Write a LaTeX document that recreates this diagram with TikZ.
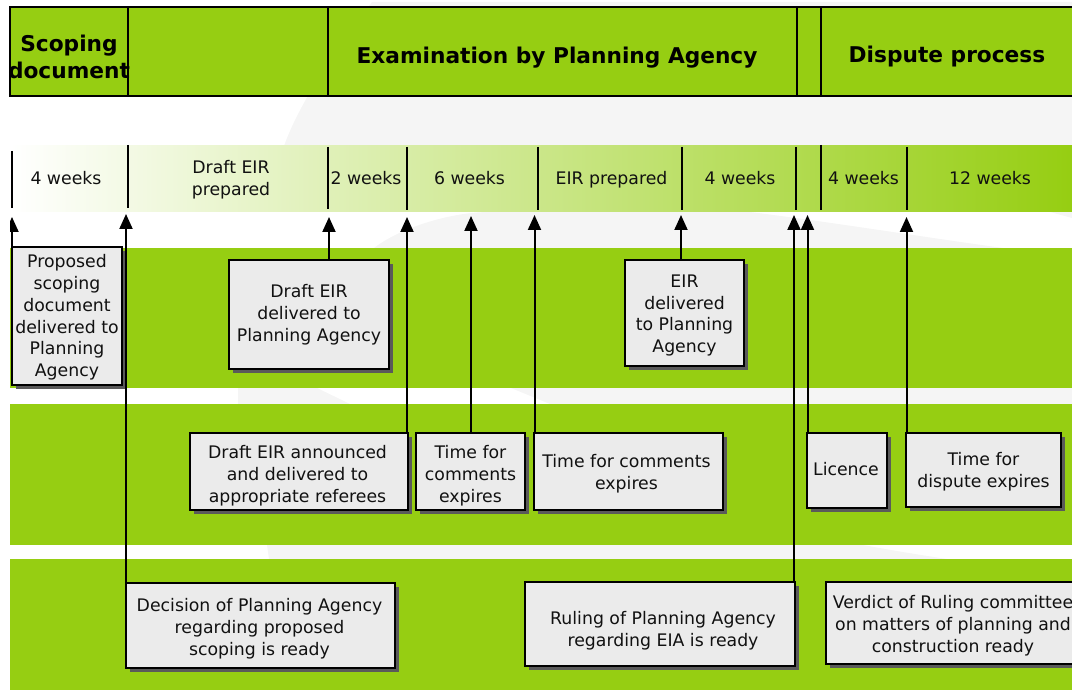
\documentclass[tikz,border=0pt]{standalone}
\usepackage{fontspec}
\setmainfont{DejaVu Sans}
\usetikzlibrary{arrows.meta,shadows}
\definecolor{grn}{HTML}{96CE12}
\definecolor{wm}{HTML}{F5F5F5}
\definecolor{boxfill}{HTML}{EBEBEB}
\definecolor{shade}{HTML}{5A5A5A}
\definecolor{ink}{HTML}{111111}
\tikzset{
  box/.style={draw=black,line width=2pt,fill=boxfill,text=ink,align=center,inner sep=0pt,
    font=\fontsize{17.3}{21.8}\selectfont,
    drop shadow={shadow xshift=4pt,shadow yshift=-4pt,fill=shade,opacity=1}},
  spanlabel/.style={text=ink,align=center,inner sep=0pt,font=\fontsize{17.3}{21.8}\selectfont},
  head/.style={text=black,align=center,inner sep=0pt,font=\bfseries\fontsize{21.7}{27}\selectfont},
  tickline/.style={draw=black,line width=2pt},
  arr/.style={draw=black,line width=2pt,-{Triangle[width=13pt,length=15pt]}},
  panel/.style={fill=grn,draw=none},
  wmark/.style={fill=wm,draw=none}
}
\begin{document}
\begin{tikzpicture}[x=1pt,y=-1pt]
\useasboundingbox (0,0) rectangle (1072,690);
% watermark
\fill[wmark] (372,2) -- (1072,2) -- (1072,218) -- (1050,212) -- (600,146) -- (284,146)
   .. controls (295,115) and (320,70) .. cycle;
\fill[wmark] (374,248) .. controls (400,228) and (450,212) .. (490,212) -- (750,212)
   .. controls (830,222) and (930,238) .. (1003,248) -- cycle;
\fill[wmark] (238,388) -- (317,388) -- (350,404) -- (238,404) -- cycle;
\fill[wmark] (511,388) -- (1072,388) -- (1072,404) -- (550,404) -- cycle;
\fill[wmark] (267,545) -- (863,545) .. controls (890,550) and (920,555) .. (947,559) -- (269,559) -- cycle;
% header
\fill[panel] (10,7) rectangle (1074,96);
\draw[line width=2pt] (1074,7) -- (10,7) -- (10,96) -- (1074,96);
\foreach \x in {128,328,797,821} \draw[line width=2pt] (\x,7) -- (\x,96);
\node[head] (h1) at (69,57) {Scoping\\document};
\node[head] (h2) at (557,57.5) {Examination by Planning Agency};
\node[head] (h3) at (947,57) {Dispute process};
% timeline band
\shade[left color=white,right color=grn,shading=axis] (10,146) rectangle (1072,212);
\foreach \x/\a/\b in {12/151/208,128/145/208,328/147/209,407/147/210,538/147/210,682/147/210,796/147/210,821/145/210,907/147/210}
  \draw[tickline] (\x,\a) -- (\x,\b);
\node[spanlabel] (s1) at (66,178) {4 weeks};
\node[spanlabel] (s2) at (231,180) {Draft EIR\\prepared};
\node[spanlabel] (s3) at (366,178) {2 weeks};
\node[spanlabel] (s4) at (469.5,178) {6 weeks};
\node[spanlabel] (s5) at (611.5,180) {EIR prepared};
\node[spanlabel] (s6) at (740,178) {4 weeks};
\node[spanlabel] (s7) at (863.5,178) {4 weeks};
\node[spanlabel] (s8) at (990,178) {12 weeks};
% panels
\fill[panel] (10,248) rectangle (1072,388);
\fill[panel] (10,404) rectangle (1072,545);
\fill[panel] (10,559) rectangle (1072,690);
% boxes
\node[box,minimum width=110pt,minimum height=138pt,label={[spanlabel,yshift=-1.5pt]center:Proposed\\scoping\\document\\delivered to\\Planning\\Agency}] (a) at (67,316) {};
\node[box,minimum width=160pt,minimum height=109pt] (b) at (309,314.5) {Draft EIR\\delivered to\\Planning Agency};
\node[box,minimum width=119pt,minimum height=106pt,label={[spanlabel,yshift=-2.5pt]center:EIR\\delivered\\to Planning\\Agency}] (c) at (684.5,313) {};
\node[box,minimum width=218pt,minimum height=77pt,label={[spanlabel,xshift=-1.5pt,yshift=-4pt]center:Draft EIR announced\\and delivered to\\appropriate referees}] (d) at (299,471.5) {};
\node[box,minimum width=109pt,minimum height=77pt,label={[spanlabel,yshift=-4pt]center:Time for\\comments\\expires}] (e) at (470.5,471.5) {};
\node[box,minimum width=189pt,minimum height=77pt,label={[spanlabel,xshift=-2pt,yshift=-2pt]center:Time for comments\\expires}] (f) at (628.5,471.5) {};
\node[box,minimum width=80pt,minimum height=75pt,label={[spanlabel,xshift=-1pt,yshift=1pt]center:Licence}] (g) at (847,470.5) {};
\node[box,minimum width=155pt,minimum height=74pt,label={[spanlabel,yshift=-2pt]center:Time for\\dispute expires}] (h) at (983.5,470) {};
\node[box,minimum width=269pt,minimum height=85pt,label={[spanlabel,xshift=-1pt,yshift=-3pt]center:Decision of Planning Agency\\regarding proposed\\scoping is ready}] (i) at (260.5,625.5) {};
\node[box,minimum width=270pt,minimum height=84pt,label={[spanlabel,xshift=3pt,yshift=-7pt]center:Ruling of Planning Agency\\regarding EIA is ready}] (j) at (660,624) {};
\node[box,minimum width=254pt,minimum height=82pt,label={[spanlabel,yshift=-2.5pt]center:Verdict of Ruling committee\\on matters of planning and\\construction ready}] (k) at (953,623) {};
% arrow tips
\coordinate (ta) at (12,217);
\coordinate (ti) at (126,214);
\coordinate (tb) at (329,217);
\coordinate (td) at (407,217);
\coordinate (te) at (471,216);
\coordinate (tf) at (534.5,215);
\coordinate (tc) at (681,215);
\coordinate (tj) at (794,215);
\coordinate (tg) at (807.5,215);
\coordinate (th) at (906.5,217);
\begin{scope}
\clip (10,200) rectangle (40,260);
\draw[arr] (a.north -| ta) -- (ta);
\end{scope}
\draw[arr] (i.north -| ti) -- (ti);
\draw[arr] (b.north -| tb) -- (tb);
\draw[arr] (d.north -| td) -- (td);
\draw[arr] (e.north -| te) -- (te);
\draw[arr] (f.north -| tf) -- (tf);
\draw[arr] (c.north -| tc) -- (tc);
\draw[arr] (j.north -| tj) -- (tj);
\draw[arr] (g.north -| tg) -- (tg);
\draw[arr] (h.north -| th) -- (th);
\end{tikzpicture}
\end{document}
